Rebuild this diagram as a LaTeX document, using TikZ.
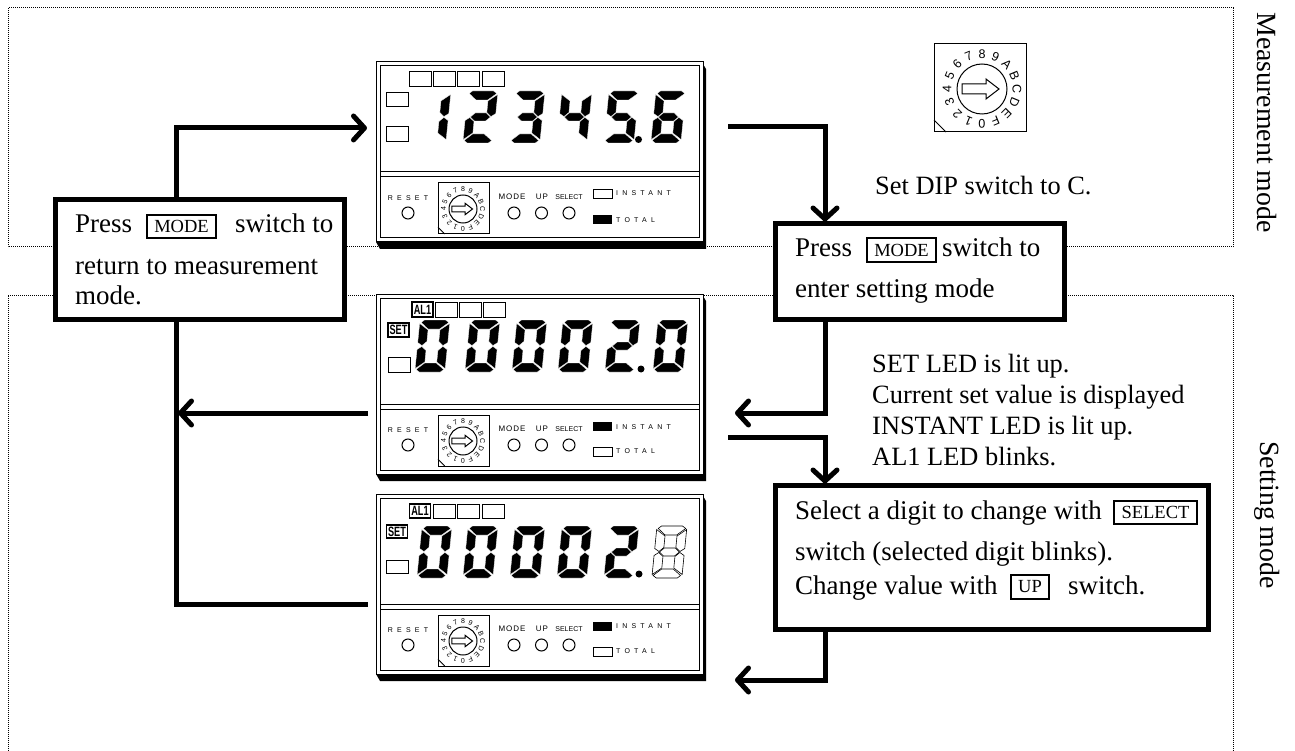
\documentclass[tikz,border=0pt]{standalone}
\usepackage{fontspec}
\setmainfont{Liberation Serif}
\newfontfamily\pfont{Liberation Sans}
\newfontfamily\pfontwide[LetterSpace=60]{Liberation Sans}
\newfontfamily\pfontmid[LetterSpace=12]{Liberation Sans}
\newfontfamily\ledfont[FakeStretch=0.68]{Liberation Sans}
\usetikzlibrary{arrows.meta}
\tikzset{
  flow/.style={line width=5pt,-{Straight Barb[length=11pt,width=24pt,line width=5pt,round]},shorten >=2pt,line join=miter},
  flowplain/.style={line width=5pt,line join=miter},
  framebox/.style={draw,fill=white,line width=5pt,outer sep=0pt,inner sep=0pt},
  keycap/.style={draw,line width=1.3pt,fill=white,inner sep=0pt,font=\fontsize{18.5}{18.5}\selectfont},
  txt/.style={anchor=base west,inner sep=0pt,font=\fontsize{27}{27}\selectfont},
  note/.style={anchor=base west,inner sep=0pt,font=\fontsize{26.4}{26.4}\selectfont},
  side/.style={rotate=-90,inner sep=0pt,font=\fontsize{27.8}{27.8}\selectfont},
  dotframe/.style={line width=1pt,dash pattern=on 1pt off 1pt},
  segon/.style={fill=black,draw=white,line width=.25pt},
  segoff/.style={fill=white,draw=black,line width=.6pt},
  thinline/.style={draw=black,line width=1pt},
  alarm/.style={draw,line width=1.2pt,fill=white,inner sep=0pt,font=\ledfont\bfseries\fontsize{13.5}{13.5}\selectfont},
  swbtn/.style={draw=black,line width=1pt,fill=white},
}
\newcommand{\sga}{(1.5,2.5)--(4.5,0)--(25.5,0)--(29,2.5)--(20.5,9)--(9,9)}
\newcommand{\sgd}{(1,49.5)--(4.5,52)--(25.5,52)--(28.5,49.5)--(20.5,43)--(9,43)}
\newcommand{\sgb}{(30,3.5)--(21,10)--(21,21.5)--(25.5,25.5)--(30,22.5)}
\newcommand{\sgc}{(30,48.5)--(21,42)--(21,30.5)--(25.5,26.5)--(30,29.5)}
\newcommand{\sgf}{(0,3.5)--(9,10)--(9,21.5)--(4.5,25.5)--(0,22.5)}
\newcommand{\sge}{(0,48.5)--(9,42)--(9,30.5)--(4.5,26.5)--(0,29.5)}
\newcommand{\sgg}{(5,26)--(9.5,22)--(20.5,22)--(25,26)--(20.5,30)--(9.5,30)}
% digit: left x, top y, segment list, style
\newcommand{\digitseg}[4]{%
  \begin{scope}[shift={(#1+5,#2)},xslant=.1]
    \foreach \s in {#3}{\edef\p{\csname sg\s\endcsname}\path[#4] \p -- cycle;}
  \end{scope}}
% dip switch: name, circle cx, cy, scale, font size, l,t,r,b (absolute)
\newcommand{\dipsw}[9]{%
  \draw[thinline,fill=white] (#6,#7) rectangle (#8,#9);
  \draw[thinline] (#6,{#9-12*#4}) -- ({#6+12*#4},#9);
  \begin{scope}[shift={(#2,#3)},scale=#4]
    \draw[thinline] (0,0) circle (25);
    \draw[thinline] (-20,-5)--(4,-5)--(4,-10)--(17,0)--(4,10)--(4,5)--(-20,5)--cycle;
    \foreach \k/\c in {0/0,1/1,2/2,3/3,4/4,5/5,6/6,7/7,8/8,9/9,10/A,11/B,12/C,13/D,14/E,15/F}{
      \pgfmathsetmacro\a{90-(\k-8)*22.5}
      \pgfmathsetmacro\rr{\a-90}
      \node (#1-\k) [rotate=\rr,inner sep=0pt,font=\pfont\fontsize{#5}{#5}\selectfont] at ({35*cos(\a)},{-35*sin(\a)}) {\c};
    }
  \end{scope}}
% panel: name, top y, divider y
\newcommand{\panelbody}[3]{%
  \fill[black] (703,#2+2) -- (706,#2+7) -- (706,#2+187) -- (380,#2+187) -- (376,#2+180) -- cycle;
  \node (#1) [draw,line width=1pt,fill=white,minimum width=327pt,minimum height=180pt,outer sep=0pt,inner sep=0pt] at (539.5,#2+90) {};
  \draw[thinline] (380,#2+4) rectangle (699,#2+176);
  \draw[thinline] (380,#3) -- (699,#3);
  \draw[thinline] (380,#3+5) -- (699,#3+5);
  \node (#1-reset) [inner sep=0pt,font=\pfontwide\fontsize{7}{7}\selectfont] at (408,#2+136) {RESET};
  \node (#1-mode) [inner sep=0pt,font=\pfontmid\fontsize{8}{8}\selectfont] at (512,#2+135) {MODE};
  \node (#1-up) [inner sep=0pt,font=\pfontmid\fontsize{8}{8}\selectfont] at (542,#2+135) {UP};
  \node (#1-select) [inner sep=0pt,font=\pfont\fontsize{7}{7}\selectfont] at (569,#2+135) {SELECT};
  \draw[swbtn] (408,#2+151) circle (6);
  \draw[swbtn] (514,#2+151) circle (6);
  \draw[swbtn] (541.5,#2+151) circle (6);
  \draw[swbtn] (569,#2+151) circle (6);
  \dipsw{#1-dip}{463}{#2+147}{.56}{7}{438}{#2+121}{489}{#2+172}}
\begin{document}
\begin{tikzpicture}[x=1pt,y=-1pt]
\useasboundingbox (0,0) rectangle (1295,751);
\fill[white] (0,0) rectangle (1295,751);
% mode frames
\draw[dotframe] (8,8) rectangle (1233,247);
\draw[dotframe] (8,751) -- (8,295) -- (1233,295) -- (1233,751);
\node (mm) [side] at (1267,122.5) {Measurement mode};
\node (sm) [side] at (1267,515) {Setting mode};
% panel 1
\panelbody{p1}{62}{172}
\foreach \x in {409,433,457,482}{\draw[thinline] (\x,72) rectangle (\x+22,87);}
\draw[thinline] (386,93) rectangle (408,107);
\draw[thinline] (386,127) rectangle (408,142);
\digitseg{416}{91}{b,c}{segon}
\digitseg{463}{91}{a,b,g,e,d}{segon}
\digitseg{510}{91}{a,b,g,c,d}{segon}
\digitseg{557}{91}{f,g,b,c}{segon}
\digitseg{604}{91}{a,f,g,c,d}{segon}
\digitseg{651}{91}{a,f,g,e,c,d}{segon}
\fill (638.5,139.5) circle (3.5);
\draw[thinline] (593,190) rectangle (612,198.5);
\fill (593,215) rectangle (612,224);
\node (p1-i) [anchor=west,inner sep=0pt,font=\pfontwide\fontsize{7}{7}\selectfont] at (616,193.5) {INSTANT};
\node (p1-t) [anchor=west,inner sep=0pt,font=\pfontwide\fontsize{7}{7}\selectfont] at (616,220) {TOTAL};
% panel 2
\panelbody{p2}{294}{404}
\node (p2-al) [alarm,minimum width=21pt,minimum height=15pt] at (422.5,309.5) {AL1};
\foreach \x in {435,459,483}{\draw[thinline] (\x,302) rectangle (\x+22,317);}
\node (p2-set) [alarm,minimum width=21pt,minimum height=14pt] at (398.5,330) {SET};
\draw[thinline] (388,357) rectangle (410,372);
\foreach \x in {415,465,512,558}{\digitseg{\x}{320}{a,b,c,d,e,f}{segon}}
\digitseg{605}{320}{a,b,g,e,d}{segon}
\digitseg{653}{320}{a,b,c,d,e,f}{segon}
\fill (641,369) circle (3.5);
\fill (593,422) rectangle (612,431);
\draw[thinline] (593,447) rectangle (612,456);
\node (p2-i) [anchor=west,inner sep=0pt,font=\pfontwide\fontsize{7}{7}\selectfont] at (616,427) {INSTANT};
\node (p2-t) [anchor=west,inner sep=0pt,font=\pfontwide\fontsize{7}{7}\selectfont] at (616,451) {TOTAL};
% panel 3
\panelbody{p3}{494}{604}
\node (p3-al) [alarm,minimum width=21pt,minimum height=14pt] at (420,511) {AL1};
\foreach \x in {433,457,482}{\draw[thinline] (\x,504) rectangle (\x+22,518);}
\node (p3-set) [alarm,minimum width=21pt,minimum height=13pt] at (397,531.5) {SET};
\draw[thinline] (386,560) rectangle (408,573);
\foreach \x in {417,463,510,557}{\digitseg{\x}{526}{a,b,c,d,e,f}{segon}}
\digitseg{604}{526}{a,b,g,e,d}{segon}
\digitseg{652}{526}{a,b,c,d,e,f,g}{segoff}
\fill (639,574) circle (3.5);
\fill (593,622) rectangle (612,631);
\draw[thinline] (593,647) rectangle (612,656);
\node (p3-i) [anchor=west,inner sep=0pt,font=\pfontwide\fontsize{7}{7}\selectfont] at (616,626) {INSTANT};
\node (p3-t) [anchor=west,inner sep=0pt,font=\pfontwide\fontsize{7}{7}\selectfont] at (616,651.5) {TOTAL};
% large dip switch
\dipsw{bigdip}{982}{89}{1}{12.5}{934}{44}{1026}{132}
% flow boxes
\node (box1) [framebox,minimum width=289pt,minimum height=120pt] at (200,259.5) {};
\node (box2) [framebox,minimum width=289pt,minimum height=96pt] at (920,271.5) {};
\node (box3) [framebox,minimum width=433pt,minimum height=144pt] at (992,557.5) {};
% box 1 text
\node (t11) [txt] at (75,233) {Press};
\node (k1) [keycap,minimum width=69pt,minimum height=23pt] at (181.5,226.5) {MODE};
\node (t12) [txt] at (235,233) {switch to};
\node (t13) [txt] at (75,274) {return to measurement};
\node (t14) [txt] at (75,305) {mode.};
% box 2 text
\node (t21) [txt] at (795,257) {Press};
\node (k2) [keycap,minimum width=69pt,minimum height=24pt] at (901.5,250) {MODE};
\node (t22) [txt] at (942,257) {switch to};
\node (t23) [txt] at (795,297) {enter setting mode};
% box 3 text
\node (t31) [txt] at (795,519) {Select a digit to change with};
\node (k3) [keycap,minimum width=83pt,minimum height=23pt] at (1155.5,512.5) {SELECT};
\node (t32) [txt] at (795,560) {switch (selected digit blinks).};
\node (t33) [txt] at (795,594) {Change value with};
\node (k4) [keycap,minimum width=38pt,minimum height=24pt] at (1030,587) {UP};
\node (t34) [txt] at (1068,594) {switch.};
% free text
\node (n1) [note] at (875,195) {Set DIP switch to C.};
\node (n2) [note] at (872,372) {SET LED is lit up.};
\node (n3) [note] at (872,403) {Current set value is displayed};
\node (n4) [note] at (872,434) {INSTANT LED is lit up.};
\node (n5) [note] at (872,465) {AL1 LED blinks.};
% connectors
\coordinate (c1) at (176,128);
\coordinate (c1e) at (369,128);
\coordinate (c2) at (728,127);
\coordinate (c2r) at (825,127);
\coordinate (c3) at (825,413);
\coordinate (c3e) at (733,413);
\coordinate (c4) at (728,437);
\coordinate (c4r) at (825,437);
\coordinate (c5) at (825,680);
\coordinate (c5e) at (733,680);
\coordinate (c6) at (368,413);
\coordinate (c6e) at (176,413);
\coordinate (c7) at (176,604);
\coordinate (c7e) at (368,604);
\draw[flow] (c1 |- box1.north) -- (c1) -- (c1e);
\draw[flow] (c2) -- (c2r) -- (c2r |- box2.north);
\draw[flow] (c3 |- box2.south) -- (c3) -- (c3e);
\draw[flow] (c4) -- (c4r) -- (c4r |- box3.north);
\draw[flow] (c5 |- box3.south) -- (c5) -- (c5e);
\draw[flow] (c6) -- (c6e);
\draw[flowplain] (c6e |- box1.south) -- (c7) -- (c7e);
\end{tikzpicture}
\end{document}
